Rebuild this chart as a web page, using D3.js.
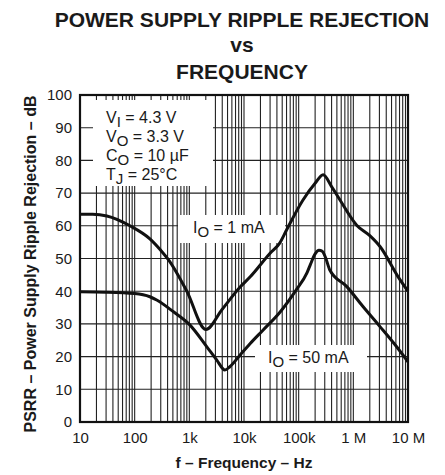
<!DOCTYPE html>
<html>
<head>
<meta charset="utf-8">
<script src="https://cdn.jsdelivr.net/npm/d3@7"></script>
<style>
  html, body { margin: 0; padding: 0; background: #fff; }
  svg { display: block; font-family: "Liberation Sans", Arial, Helvetica, sans-serif; }
</style>
</head>
<body>
<svg id="chart" width="445" height="475"></svg>
<script>
// ---- data ----
const titleLines = ["POWER SUPPLY RIPPLE REJECTION", "vs", "FREQUENCY"];
const xLabel = "f – Frequency – Hz";
const yLabel = "PSRR – Power Supply Ripple Rejection – dB";

const xTickValues = [10, 100, 1e3, 1e4, 1e5, 1e6, 1e7];
const xTickLabels = ["10", "100", "1k", "10k", "100k", "1 M", "10 M"];
const yTickValues = [0, 10, 20, 30, 40, 50, 60, 70, 80, 90, 100];

// I_O = 1 mA
const freq1 = [10, 17, 31, 82, 190, 300, 420, 900, 2000, 4000, 8500, 13000, 30000, 45000, 60000, 120000, 200000, 280000, 400000, 570000, 1.15e6, 2e6, 3.1e6, 6.6e6, 1e7];
const psrr1 = [63.5, 63.5, 63, 60, 56, 52.5, 49.5, 40, 28.3, 34.5, 41.3, 44.4, 51.6, 54.7, 58.7, 67.9, 73, 75.6, 72, 67.9, 60.2, 57, 53.6, 44.4, 40];

// I_O = 50 mA
const freq2 = [10, 30, 100, 190, 253, 513, 1020, 2090, 3160, 4470, 5500, 8500, 13000, 22000, 45000, 91000, 141000, 165000, 200000, 235000, 270000, 310000, 371000, 760000, 1.5e6, 3.1e6, 6.2e6, 1e7];
const psrr2 = [39.8, 39.7, 39.3, 38.3, 37.3, 33.7, 29.7, 23, 19, 15.9, 16.9, 20.5, 24, 28, 33.5, 40.5, 45.5, 48.3, 51.4, 52.5, 52.2, 50.3, 46.5, 41.4, 35.3, 29.1, 23, 18.4];

const conditions = [
  ["V", "I", " = 4.3 V"],
  ["V", "O", " = 3.3 V"],
  ["C", "O", " = 10 µF"],
  ["T", "J", " = 25°C"]
];
const curveLabels = [
  ["I", "O", " = 1 mA"],
  ["I", "O", " = 50 mA"]
];

// ---- layout ----
const svg = d3.select("#chart");
const X0 = 80, X1 = 408, Y0 = 95, Y1 = 422;
const x = d3.scaleLog().domain([10, 1e7]).range([X0, X1]);
const y = d3.scaleLinear().domain([0, 100]).range([Y1, Y0]);
const ink = "#1a1a1a";

// title
svg.append("g").selectAll("text").data(titleLines).join("text")
  .attr("x", 242).attr("y", (d, i) => [27, 52, 79][i])
  .attr("text-anchor", "middle").attr("font-weight", "bold")
  .attr("font-size", 21).attr("fill", ink).text(d => d);

// grid
const minor = [];
for (let n = 1; n <= 6; n++) for (let k = 1; k <= 9; k++) minor.push(k * Math.pow(10, n));
minor.push(1e7);
const grid = svg.append("g").attr("stroke", "#222").attr("stroke-width", 1.1);
grid.selectAll("line.v").data(minor).join("line").attr("class", "v")
  .attr("x1", d => x(d)).attr("x2", d => x(d)).attr("y1", Y0).attr("y2", Y1);
grid.selectAll("line.h").data(yTickValues).join("line").attr("class", "h")
  .attr("x1", X0).attr("x2", X1).attr("y1", d => y(d)).attr("y2", d => y(d));

// white boxes over grid
const boxes = [
  {x: 93, y: 100, w: 120, h: 86},
  {x: 178, y: 215, w: 107, h: 28},
  {x: 255, y: 345, w: 112, h: 27}
];
svg.append("g").selectAll("rect").data(boxes).join("rect")
  .attr("x", d => d.x).attr("y", d => d.y).attr("width", d => d.w).attr("height", d => d.h)
  .attr("fill", "#fff");

// curves
const line = d3.line().x(d => x(d[0])).y(d => y(d[1])).curve(d3.curveMonotoneX);
[[freq1, psrr1], [freq2, psrr2]].forEach(([f, p]) => {
  svg.append("path").datum(f.map((v, i) => [v, p[i]]))
    .attr("d", line).attr("fill", "none").attr("stroke", "#111")
    .attr("stroke-width", 3).attr("stroke-linejoin", "round");
});

// frame
svg.append("rect").attr("x", X0).attr("y", Y0).attr("width", X1 - X0).attr("height", Y1 - Y0)
  .attr("fill", "none").attr("stroke", "#111").attr("stroke-width", 2.2);

// axes
const xAxis = d3.axisBottom(x).tickValues(xTickValues)
  .tickFormat((d, i) => xTickLabels[i]).tickSize(0).tickPadding(10);
const gx = svg.append("g").attr("transform", `translate(0,${Y1})`).call(xAxis);
gx.select(".domain").remove();
gx.selectAll("text").attr("font-size", 15).attr("fill", ink).attr("font-family", null);

const yAxis = d3.axisLeft(y).tickValues(yTickValues).tickSize(0).tickPadding(8);
const gy = svg.append("g").attr("transform", `translate(${X0},0)`).call(yAxis);
gy.select(".domain").remove();
gy.selectAll("text").attr("font-size", 15).attr("fill", ink).attr("font-family", null);

// axis titles
svg.append("text").attr("x", 244).attr("y", 468).attr("text-anchor", "middle")
  .attr("font-weight", "bold").attr("font-size", 15.5).attr("fill", ink).text(xLabel);
svg.append("text").attr("transform", "translate(36,264) rotate(-90)")
  .attr("text-anchor", "middle").attr("font-weight", "bold")
  .attr("font-size", 16).attr("fill", ink).text(yLabel);

// text with subscripts
function subText(g, parts, px, py) {
  const t = g.append("text").attr("x", px).attr("y", py).attr("font-size", 16).attr("fill", ink);
  t.append("tspan").text(parts[0]);
  t.append("tspan").attr("dy", 4).attr("font-size", 15).text(parts[1]);
  t.append("tspan").attr("dy", -4).text(parts[2]);
}
const ann = svg.append("g");
conditions.forEach((c, i) => subText(ann, c, 106, [123, 142, 161, 180][i]));
subText(ann, curveLabels[0], 193, 233);
subText(ann, curveLabels[1], 268, 363);
</script>
</body>
</html>
